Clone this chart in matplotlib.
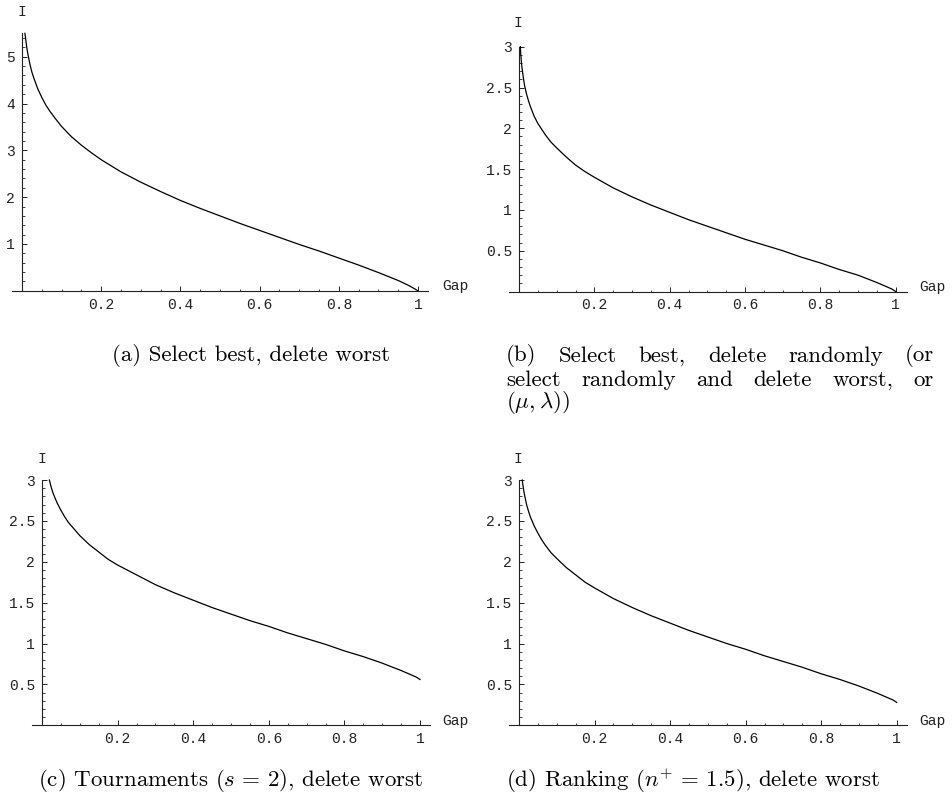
import matplotlib
matplotlib.use("Agg")
import matplotlib.pyplot as plt
from matplotlib.ticker import FixedLocator, NullFormatter

plt.rcParams["mathtext.fontset"] = "cm"
plt.rcParams["axes.formatter.use_mathtext"] = True

# ---------------- data ----------------
gap_a = [0.0073, 0.0085, 0.01, 0.0125, 0.015, 0.02, 0.025, 0.03, 0.04, 0.05, 0.06, 0.07, 0.085,
         0.1, 0.125, 0.15, 0.175, 0.2, 0.25, 0.3, 0.35, 0.4, 0.45, 0.5, 0.55, 0.6, 0.65,
         0.7, 0.75, 0.8, 0.85, 0.9, 0.95, 0.975, 0.99, 1.0]
int_a = [5.50, 5.43, 5.33, 5.17, 5.05, 4.84, 4.67, 4.54, 4.31, 4.13, 3.97, 3.84, 3.67,
         3.51, 3.29, 3.11, 2.95, 2.80, 2.54, 2.32, 2.12, 1.93, 1.76, 1.60, 1.44, 1.29, 1.14,
         0.99, 0.85, 0.70, 0.55, 0.39, 0.22, 0.12, 0.05, 0.0]

gap_b = [0.0037, 0.0045, 0.005, 0.006, 0.0075, 0.01, 0.0125, 0.015, 0.02, 0.025, 0.03, 0.04, 0.05,
         0.06, 0.07, 0.085, 0.1, 0.125, 0.15, 0.175, 0.2, 0.25, 0.3, 0.35, 0.4, 0.45, 0.5,
         0.55, 0.6, 0.65, 0.7, 0.75, 0.8, 0.85, 0.9, 0.95, 0.975, 0.99, 1.0]
int_b = [3.00, 2.92, 2.89, 2.83, 2.76, 2.67, 2.59, 2.52, 2.42, 2.34, 2.27, 2.15, 2.06,
         1.99, 1.92, 1.83, 1.76, 1.65, 1.55, 1.47, 1.40, 1.27, 1.16, 1.06, 0.97, 0.88, 0.80,
         0.72, 0.64, 0.57, 0.50, 0.42, 0.35, 0.27, 0.20, 0.11, 0.06, 0.03, 0.0]

gap_c = [0.0195, 0.025, 0.03, 0.04, 0.05, 0.06, 0.07, 0.085, 0.1, 0.125, 0.15, 0.175, 0.2,
         0.25, 0.3, 0.35, 0.4, 0.45, 0.5, 0.55, 0.6, 0.65, 0.7, 0.75, 0.8, 0.85, 0.9,
         0.95, 0.975, 0.99, 1.0]
int_c = [3.00, 2.90, 2.83, 2.72, 2.63, 2.55, 2.48, 2.40, 2.32, 2.21, 2.12, 2.03, 1.96,
         1.84, 1.72, 1.62, 1.53, 1.44, 1.36, 1.28, 1.21, 1.13, 1.06, 0.99, 0.91, 0.84, 0.76,
         0.67, 0.62, 0.59, 0.56]

gap_d = [0.0085, 0.01, 0.0125, 0.015, 0.02, 0.025, 0.03, 0.04, 0.05, 0.06, 0.07, 0.085, 0.1,
         0.125, 0.15, 0.175, 0.2, 0.25, 0.3, 0.35, 0.4, 0.45, 0.5, 0.55, 0.6, 0.65, 0.7,
         0.75, 0.8, 0.85, 0.9, 0.95, 0.975, 0.99, 1.0]
int_d = [3.00, 2.95, 2.87, 2.81, 2.70, 2.62, 2.55, 2.44, 2.35, 2.27, 2.20, 2.11, 2.04,
         1.93, 1.84, 1.75, 1.68, 1.55, 1.44, 1.34, 1.25, 1.16, 1.08, 1.00, 0.93, 0.85, 0.78,
         0.71, 0.63, 0.56, 0.48, 0.39, 0.34, 0.31, 0.28]

x_major = [0.2, 0.4, 0.6, 0.8, 1.0]
x_major_labels = ["0.2", "0.4", "0.6", "0.8", "1"]
x_minor = [0.05, 0.1, 0.15, 0.25, 0.3, 0.35, 0.45, 0.5, 0.55, 0.65, 0.7, 0.75, 0.85, 0.9, 0.95]

y_major_a = [1, 2, 3, 4, 5]
y_major_a_labels = ["1", "2", "3", "4", "5"]
y_minor_a = [0.2, 0.4, 0.6, 0.8, 1.2, 1.4, 1.6, 1.8, 2.2, 2.4, 2.6, 2.8, 3.2, 3.4, 3.6, 3.8,
             4.2, 4.4, 4.6, 4.8, 5.2, 5.4]
y_major_b = [0.5, 1, 1.5, 2, 2.5, 3]
y_major_b_labels = ["0.5", "1", "1.5", "2", "2.5", "3"]
y_minor_b = [0.1, 0.2, 0.3, 0.4, 0.6, 0.7, 0.8, 0.9, 1.1, 1.2, 1.3, 1.4, 1.6, 1.7, 1.8, 1.9,
             2.1, 2.2, 2.3, 2.4, 2.6, 2.7, 2.8, 2.9]

x_label = "Gap"
y_label = "I"

cap_a = "(a) Select best, delete worst"
cap_b_lines = ["(b) Select best, delete randomly (or",
               "select randomly and delete worst, or"]
cap_b_last = r"$(\mu,\lambda)$)"
cap_c = r"(c) Tournaments ($s\,=\,2$), delete worst"
cap_d = r"(d) Ranking ($n^{+}\,=\,1.5$), delete worst"

# ---------------- layout ----------------
W, H = 952, 807
fig = plt.figure(figsize=(W / 100, H / 100), dpi=100)
MONO = "Liberation Mono"
CAPF = "cmr10"
TICKFS = 10.5
CAPFS = 16.5


def panel(x0px, x1px, y0px, ytop_px, xlim, ytop, gx, gy, ymaj, ymajlab, ymin, ilab, glab):
    sx = x1px - x0px
    left = x0px + xlim[0] * sx
    right = x0px + xlim[1] * sx
    ax = fig.add_axes([left / W, (H - y0px) / H, (right - left) / W, (y0px - ytop_px) / H])
    ax.set_xlim(*xlim)
    ax.set_ylim(0, ytop)
    ax.patch.set_alpha(0)
    for s in ("top", "right"):
        ax.spines[s].set_visible(False)
    ax.spines["left"].set_position(("data", 0))
    for s in ("left", "bottom"):
        ax.spines[s].set_linewidth(0.8)
        ax.spines[s].set_color("#222222")
    ax.xaxis.set_major_locator(FixedLocator(x_major))
    ax.xaxis.set_minor_locator(FixedLocator(x_minor))
    ax.set_xticklabels(x_major_labels)
    ax.yaxis.set_major_locator(FixedLocator(ymaj))
    ax.yaxis.set_minor_locator(FixedLocator(ymin))
    ax.set_yticklabels(ymajlab)
    ax.xaxis.set_minor_formatter(NullFormatter())
    ax.yaxis.set_minor_formatter(NullFormatter())
    ax.tick_params(which="major", direction="in", length=3.5, width=0.7, color="#222222",
                   labelsize=TICKFS, labelcolor="#222222", pad=5)
    ax.tick_params(which="minor", direction="in", length=1.8, width=0.6, color="#222222")
    for lab in ax.get_xticklabels() + ax.get_yticklabels():
        lab.set_family(MONO)
    ax.plot(gx, gy, color="black", lw=0.9, clip_on=False)
    fig.text(ilab[0] / W, 1 - ilab[1] / H, y_label, family=MONO, fontsize=TICKFS,
             ha="center", va="center", color="#222222")
    fig.text(glab[0] / W, 1 - glab[1] / H, x_label, family=MONO, fontsize=TICKFS,
             ha="left", va="center", color="#222222")
    return ax


panel(22, 418, 290.8, 33.3, (-0.0253, 1.0253), 5.5, gap_a, int_a,
      y_major_a, y_major_a_labels, y_minor_a, (22, 12), (442, 286))
panel(519, 895.7, 291.5, 46.7, (-0.0265, 1.029), 3.0, gap_b, int_b,
      y_major_b, y_major_b_labels, y_minor_b, (518, 23), (919, 287))
panel(42, 420, 725.3, 480, (-0.0265, 1.0265), 3.0, gap_c, int_c,
      y_major_b, y_major_b_labels, y_minor_b, (41.7, 459), (442, 721))
panel(519, 896.7, 725.3, 480, (-0.026, 1.026), 3.0, gap_d, int_d,
      y_major_b, y_major_b_labels, y_minor_b, (518, 459), (919, 721))

# ---------------- captions ----------------
def cap(x, y, s, ha="left"):
    fig.text(x / W, 1 - y / H, s, family=CAPF, fontsize=CAPFS, ha=ha, va="center")


renderer = fig.canvas.get_renderer()


def justified(words, xl, xr, y):
    ts = [fig.text(0, 0, w, family=CAPF, fontsize=CAPFS, ha="left", va="center") for w in words]
    ws = [t.get_window_extent(renderer).width for t in ts]
    g = (xr - xl - sum(ws)) / (len(words) - 1)
    x = xl
    for t, w in zip(ts, ws):
        t.set_position((x / W, 1 - y / H))
        x += w + g


cap(390, 356, cap_a, ha="right")
cap(38, 781, cap_c)
cap(506, 781, cap_d)

justified(cap_b_lines[0].split(" "), 506, 934, 356)
justified(cap_b_lines[1].split(" "), 506, 934, 380)
cap(506, 403, cap_b_last)

fig.savefig("out.png", dpi=100)
